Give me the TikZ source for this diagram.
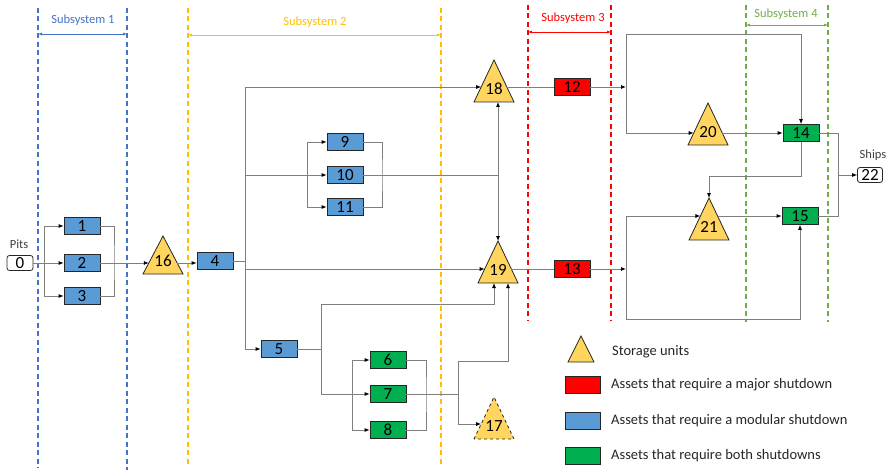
\documentclass[tikz,border=0pt]{standalone}
\usepackage{fontspec}
\setmainfont{Carlito}
\usetikzlibrary{arrows.meta,calc}
\definecolor{sysblue}{HTML}{4472C4}
\definecolor{sysgold}{HTML}{FFC000}
\definecolor{sysred}{HTML}{FF0000}
\definecolor{sysgreen}{HTML}{70AD47}
\definecolor{tank}{HTML}{FFD55F}
\definecolor{modblue}{HTML}{5B9BD5}
\definecolor{bothgreen}{HTML}{00B050}
\definecolor{majred}{HTML}{FF0000}
\definecolor{wire}{HTML}{7F7F7F}
\definecolor{edgecol}{HTML}{262626}
\definecolor{txtgray}{HTML}{404040}
% #1 name, #2 cx, #3 base y, #4 height, #5 port height above base, #6 label, #7 extra style
\newcommand\tankunit[7]{%
  \draw[tankshape,#7] (#2-20,#3) -- (#2,#3-#4) coordinate (#1n) -- (#2+20,#3) -- cycle;
  \coordinate (#1w) at (#2-20+20*#5/#4,#3-#5);
  \coordinate (#1e) at (#2+20-20*#5/#4,#3-#5);
  \coordinate (#1s) at (#2,#3);
  \node[tanklabel] (#1) at (#2,#3-13) {#6};
}
\begin{document}
\begin{tikzpicture}[x=1pt,y=-1pt,
  conn/.style={draw=wire,line width=0.8pt},
  arr/.style={conn,-{Latex[length=5pt,width=4pt,black]}},
  darr/.style={conn,{Latex[length=5pt,width=4pt,black]}-{Latex[length=5pt,width=4pt,black]}},
  asset/.style={draw=edgecol,line width=0.8pt,minimum width=36pt,minimum height=17pt,inner sep=0pt,font=\fontsize{17}{17}\selectfont},
  modular/.style={asset,fill=modblue},
  major/.style={asset,fill=majred},
  both/.style={asset,fill=bothgreen},
  endpt/.style={draw=edgecol,line width=0.8pt,fill=white,rounded corners=2.5pt,minimum width=26pt,minimum height=15pt,inner sep=0pt,font=\fontsize{17}{17}\selectfont},
  tankshape/.style={draw=edgecol,line width=0.8pt,fill=tank,line join=miter},
  tanklabel/.style={inner sep=0pt,font=\fontsize{17}{17}\selectfont},
  sysline/.style={dash pattern=on 5pt off 3.5pt,line width=1.2pt},
  sysspan/.style={{Latex[length=4pt,width=3pt]}-{Latex[length=4pt,width=3pt]},line width=0.6pt},
  syslabel/.style={font=\fontsize{12.5}{13}\selectfont},
  endlabel/.style={font=\fontsize{12.5}{13}\selectfont,text=txtgray},
  legendtext/.style={anchor=west,inner sep=0pt,font=\fontsize{14.5}{15}\selectfont,text=edgecol}]
\useasboundingbox (0,0) rectangle (890,473);

% ---- subsystem boundaries
\draw[sysline,sysblue] (38,8) -- (38,468);
\draw[sysline,sysblue] (127,8) -- (127,470);
\draw[sysspan,sysblue] (38,34) -- (127,34);
\node[syslabel,text=sysblue] (sys1) at (83,20) {Subsystem 1};

\draw[sysline,sysgold] (188,8) -- (188,465);
\draw[sysline,sysgold] (441,8) -- (441,465);
\draw[sysspan,sysgold] (188,35) -- (441,35);
\node[syslabel,text=sysgold] (sys2) at (315,22) {Subsystem 2};

\draw[sysline,sysred] (528,5) -- (528,320);
\draw[sysline,sysred] (611,5) -- (611,320);
\draw[sysspan,sysred] (528,32) -- (611,32);
\node[syslabel,text=sysred] (sys3) at (573,18) {Subsystem 3};

\draw[sysline,sysgreen] (746,5) -- (746,322);
\draw[sysline,sysgreen] (828,5) -- (828,322);
\draw[sysspan,sysgreen] (746,25) -- (828,25);
\node[syslabel,text=sysgreen] (sys4) at (786,14) {Subsystem 4};

% ---- nodes
\node[endlabel] (pits) at (19,244) {Pits};
\node[endpt] (n0) at (20,263) {0};
\node[modular] (b1) at (82,226) {1};
\node[modular] (b2) at (82,263) {2};
\node[modular] (b3) at (82,296) {3};
\tankunit{t16}{163}{274}{38}{11}{16}{}
\node[modular] (b4) at (215,261) {4};
\node[modular] (b5) at (279,349) {5};
\node[modular] (b9) at (345,142) {9};
\node[modular] (b10) at (345,175) {10};
\node[modular] (b11) at (345,207) {11};
\node[both] (b6) at (388,360) {6};
\node[both] (b7) at (388,394) {7};
\node[both] (b8) at (388,430) {8};
\tankunit{t18}{494}{102}{42}{15}{18}{}
\tankunit{t19}{498}{283}{42}{14}{19}{}
\tankunit{t17}{494}{439}{42}{15}{17}{dashed}
\node[major] (b12) at (572,87) {12};
\node[major] (b13) at (572,269) {13};
\tankunit{t20}{708}{145}{42}{12}{20}{}
\tankunit{t21}{709}{240}{42}{24}{21}{}
\node[both] (b14) at (801,133) {14};
\node[both] (b15) at (800,216) {15};
\node[endlabel] (ships) at (873,155) {Ships};
\node[endpt,minimum width=25pt] (b22) at (870,175) {22};

% ---- subsystem 1 connectors
\coordinate (j0) at (44,263);
\draw[arr] (n0.east) -- (b2.west);
\draw[arr] (j0) |- (b1.west);
\draw[arr] (j0) |- (b3.west);
\coordinate (m1) at (114,263);
\draw[conn] (b1.east) -| (m1) |- (b3.east);
\draw[arr] (b2.east) -- (t16w);
\draw[arr] (t16e) -- (t16e -| b4.west);

% ---- subsystem 2 connectors
\coordinate (j4) at (245,261);
\draw[conn] (b4.east) -- (j4);
\draw[arr] (j4) |- (t18w);
\draw[arr] (j4) |- (b5.west);
\draw[arr] (j4 |- b10) -- (b10.west);
\draw[arr] (j4 |- t19w) -- (t19w);
\coordinate (j10) at (307,175);
\draw[arr] (j10) |- (b9.west);
\draw[arr] (j10) |- (b11.west);
\coordinate (m10) at (382,175);
\draw[conn] (b9.east) -| (m10) |- (b11.east);
\draw[conn] (b10.east) -- (b10 -| t19n);
\draw[darr] (t18s -| t19n) -- (t19n);

\coordinate (j5) at (321,349);
\draw[conn] (b5.east) -- (j5);
\draw[arr] (j5) |- ($(t19s)+(-4,21)$) -- ($(t19s)+(-4,0)$);
\draw[arr] (j5) |- (b7.west);
\coordinate (j7) at (352,394);
\draw[arr] (j7) |- (b6.west);
\draw[arr] (j7) |- (b8.west);
\coordinate (m7) at (426,394);
\draw[conn] (b6.east) -| (m7) |- (b8.east);
\coordinate (k7) at (458,394);
\draw[conn] (b7.east) -- (k7);
\draw[arr] (k7) |- ($(t19s)+(10,78)$) -- ($(t19s)+(10,0)$);
\draw[arr] (k7) |- (t17w);

% ---- subsystem 3 / 4 connectors
\draw[conn] (t18e) -- (b12.west);
\coordinate (j12) at (626,87);
\draw[arr] (b12.east) -- (j12);
\draw[arr] (j12) -- (j12 |- 0,34) -| (b14.north);
\draw[arr] (j12) |- (t20w);
\draw[arr] (t20e) -- (t20e -| b14.west);
\draw[arr] (b14.south) -- (b14.south |- 0,176) -| (t21n);
\draw[arr] (t21e) -- (t21e -| b15.west);
\draw[conn] (t19e) -- (t19e -| b13.west);
\coordinate (j13) at (626,269);
\draw[arr] (b13.east) -- (j13);
\draw[arr] (j13) |- (t21w);
\draw[arr] (j13) -- (j13 |- 0,319) -| (b15.south);
\coordinate (j22) at (838,175);
\draw[conn] (b14.east) -| (j22) |- (b15.east);
\draw[arr] (j22) -- (b22.west);

% ---- legend
\draw[tankshape] (568,362) -- (581,336) -- (594,362) -- cycle;
\node[legendtext] (lg1) at (612,352) {Storage units};
\node[major,minimum width=35pt] (lgr) at (583,385) {};
\node[legendtext] (lg2) at (611,385) {Assets that require a major shutdown};
\node[modular,minimum width=35pt] (lgb) at (583,421) {};
\node[legendtext] (lg3) at (611,421) {Assets that require a modular shutdown};
\node[both,minimum width=35pt] (lgg) at (583,456) {};
\node[legendtext] (lg4) at (611,456) {Assets that require both shutdowns};
\end{tikzpicture}
\end{document}
